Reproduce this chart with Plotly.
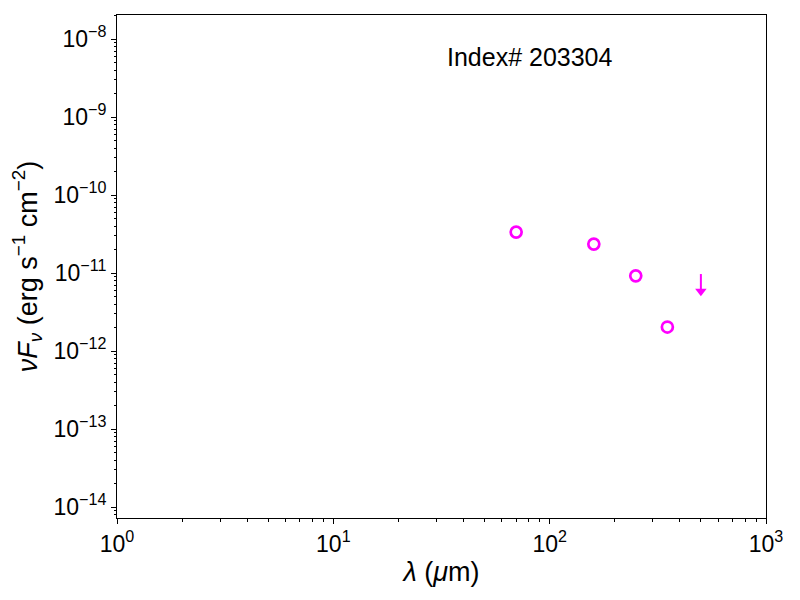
import plotly.graph_objects as go

# Detections
wavelength_um = [70, 160, 250, 350]
nuFnu = [3.35e-11, 2.35e-11, 9.2e-12, 2.03e-12]

# Upper limits
ul_wavelength_um = [500]
ul_nuFnu = [9.7e-12]
ul_arrow_ratio = 0.6

# Tick decades
x_tick_exponents = [0, 1, 2, 3]
y_tick_exponents = [-15, -14, -13, -12, -11, -10, -9, -8]
minor_mantissas = [2, 3, 4, 5, 6, 7, 8, 9]

source_label = "Index# 203304"
magenta = "#FF00FF"

fig = go.Figure()

fig.add_trace(go.Scatter(
    x=wavelength_um, y=nuFnu, mode="markers",
    marker=dict(symbol="circle-open", size=11, color=magenta,
                line=dict(width=2.7, color=magenta)),
    showlegend=False, hoverinfo="skip"))

for xv, yv in zip(ul_wavelength_um, ul_nuFnu):
    fig.add_trace(go.Scatter(
        x=[xv, xv], y=[yv, yv * ul_arrow_ratio], mode="lines",
        line=dict(color=magenta, width=2), showlegend=False, hoverinfo="skip"))
    fig.add_trace(go.Scatter(
        x=[xv], y=[yv * ul_arrow_ratio], mode="markers",
        marker=dict(symbol="triangle-down", size=10, color=magenta,
                    line=dict(width=0)),
        showlegend=False, hoverinfo="skip"))

font_family = "Liberation Sans, Arial, sans-serif"


def power_label(e):
    return "10<sup>" + str(e).replace("-", "−") + "</sup>"


def minor_vals(exps):
    return [m * 10.0 ** e for e in exps for m in minor_mantissas]


axis_common = dict(
    type="log", showgrid=False, zeroline=False, automargin=False,
    showline=True, linecolor="black", linewidth=1, mirror=True,
    ticks="outside", ticklen=5, tickwidth=1, tickcolor="black",
    tickfont=dict(size=23, color="black", family=font_family),
)

minor_common = dict(ticks="outside", ticklen=2.5, tickwidth=0.8,
                    tickcolor="black", showgrid=False)

fig.update_layout(
    width=792, height=592,
    margin=dict(l=109, r=34, t=7, b=82),
    paper_bgcolor="white", plot_bgcolor="white",
    font=dict(family=font_family, color="black"),
    xaxis=dict(axis_common, range=[0, 3],
               tickvals=[10 ** e for e in x_tick_exponents],
               ticktext=[power_label(e) for e in x_tick_exponents],
               minor=dict(minor_common, tickvals=minor_vals(x_tick_exponents)),
               title=dict(text="<i>λ</i> (<i>μ</i>m)", font=dict(size=27), standoff=6)),
    yaxis=dict(axis_common, range=[-14.141, -7.692],
               tickvals=[10.0 ** e for e in y_tick_exponents],
               ticktext=[power_label(e) for e in y_tick_exponents],
               minor=dict(minor_common, tickvals=minor_vals(y_tick_exponents)),
               title=dict(text="<i>νF</i><sub><i>ν</i></sub> (erg s<sup>−1</sup> cm<sup>−2</sup>)",
                          font=dict(size=27), standoff=8)),
)

fig.add_annotation(
    text=source_label, xref="paper", yref="paper", x=0.636, y=0.9165,
    showarrow=False, font=dict(size=25, color="black", family=font_family),
    xanchor="center", yanchor="middle")

fig.write_html("out.html")
